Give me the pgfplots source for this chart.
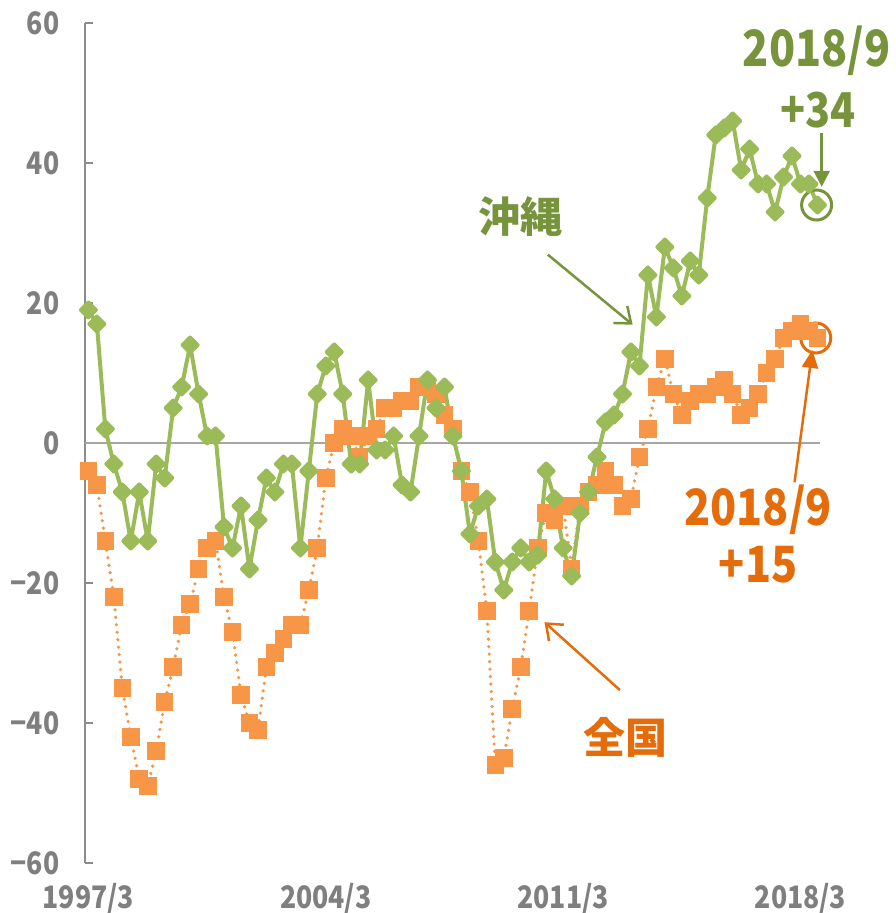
\documentclass[border=0pt]{standalone}
\usepackage{pgfplots}
\pgfplotsset{compat=1.18}
\usepackage{fontspec}
\setmainfont{Noto Sans CJK JP}
\usetikzlibrary{arrows.meta}
\definecolor{gline}{HTML}{9BBB59}
\definecolor{gdark}{HTML}{77933C}
\definecolor{oline}{HTML}{F79646}
\definecolor{odark}{HTML}{E46C0A}
\definecolor{axisgray}{HTML}{8C8C8C}
\definecolor{zerogray}{HTML}{A6A6A6}
\definecolor{labelgray}{HTML}{7F7F7F}
\newcommand{\nar}[1]{\scalebox{0.86}[1]{#1}}
\begin{document}
\begin{tikzpicture}
\useasboundingbox (0,0) rectangle (895pt,913pt);
\begin{axis}[
  scale only axis, width=735pt, height=840pt,
  at={(85pt,50pt)}, anchor=south west,
  xmin=-0.4, xmax=86.3, ymin=-60, ymax=60,
  axis x line*=bottom, axis y line*=left,
  x axis line style={draw=none},
  y axis line style={draw=axisgray, line width=1.5pt},
  xtick={0,28,56,84},
  xticklabels={\nar{1997/3},\nar{2004/3},\nar{2011/3},\nar{2018/3}},
  ytick={-60,-40,-20,0,20,40,60},
  yticklabels={\nar{−60},\nar{−40},\nar{−20},\nar{0},\nar{20},\nar{40},\nar{60}},
  xtick style={draw=none},
  ytick style={draw=axisgray, line width=1.5pt},
  tick align=inside, major tick length=8pt,
  ticklabel style={font=\fontsize{31}{33}\selectfont\bfseries, text=labelgray},
  yticklabel style={xshift=-22pt},
  xticklabel style={yshift=-17pt},
  clip=false,
]
\addplot[zerogray, line width=1.5pt] coordinates {(-0.4,0) (86.3,0)};
\addplot[oline, line width=3.6pt, dash pattern=on 0pt off 7.5pt, line cap=round,
  mark=square*, mark size=7pt, mark options={solid}] coordinates {
(0,-4)(1,-6)(2,-14)(3,-22)(4,-35)(5,-42)(6,-48)(7,-49)(8,-44)(9,-37)
(10,-32)(11,-26)(12,-23)(13,-18)(14,-15)(15,-14)(16,-22)(17,-27)(18,-36)(19,-40)
(20,-41)(21,-32)(22,-30)(23,-28)(24,-26)(25,-26)(26,-21)(27,-15)(28,-5)(29,0)
(30,2)(31,1)(32,-2)(33,1)(34,2)(35,5)(36,5)(37,6)(38,6)(39,8)
(40,8)(41,7)(42,4)(43,2)(44,-4)(45,-7)(46,-14)(47,-24)(48,-46)(49,-45)
(50,-38)(51,-32)(52,-24)(53,-15)(54,-10)(55,-11)(56,-9)(57,-18)(58,-9)(59,-7)
(60,-6)(61,-4)(62,-6)(63,-9)(64,-8)(65,-2)(66,2)(67,8)(68,12)(69,7)
(70,4)(71,6)(72,7)(73,7)(74,8)(75,9)(76,7)(77,4)(78,5)(79,7)
(80,10)(81,12)(82,15)(83,16)(84,17)(85,16)(86,15)};
\addplot[gline, line width=4pt, line join=round,
  mark=diamond*, mark size=7.5pt, mark options={solid, xscale=1.33}] coordinates {
(0,19)(1,17)(2,2)(3,-3)(4,-7)(5,-14)(6,-7)(7,-14)(8,-3)(9,-5)
(10,5)(11,8)(12,14)(13,7)(14,1)(15,1)(16,-12)(17,-15)(18,-9)(19,-18)
(20,-11)(21,-5)(22,-7)(23,-3)(24,-3)(25,-15)(26,-4)(27,7)(28,11)(29,13)
(30,7)(31,-3)(32,-3)(33,9)(34,-1)(35,-1)(36,1)(37,-6)(38,-7)(39,1)
(40,9)(41,5)(42,8)(43,1)(44,-4)(45,-13)(46,-9)(47,-8)(48,-17)(49,-21)
(50,-17)(51,-15)(52,-17)(53,-16)(54,-4)(55,-8)(56,-15)(57,-19)(58,-10)(59,-7)
(60,-2)(61,3)(62,4)(63,7)(64,13)(65,11)(66,24)(67,18)(68,28)(69,25)
(70,21)(71,26)(72,24)(73,35)(74,44)(75,45)(76,46)(77,39)(78,42)(79,37)
(80,37)(81,33)(82,38)(83,41)(84,37)(85,37)(86,34)};
% annotations
\node[text=gdark, font=\fontsize{50}{54}\selectfont\bfseries] at (axis cs:85.9,56.1) {\nar{2018/9}};
\node[text=gdark, font=\fontsize{48}{50}\selectfont\bfseries] at (axis cs:86.1,47.6) {\nar{+34}};
\draw[gdark, line width=2.5pt, -{Triangle[length=16pt,width=16pt]}] (axis cs:86.5,44.3) -- (axis cs:86.5,36.6);
\draw[gdark, line width=3pt] (axis cs:85.9,34) circle[radius=15pt];
\node[text=gdark, font=\fontsize{42}{46}\selectfont\bfseries] at (axis cs:51.0,32.4) {沖縄};
\draw[gdark, line width=2.5pt, -{Straight Barb[length=14pt,width=22pt]}] (axis cs:54.2,26.9) -- (axis cs:64.2,16.9);
\draw[odark, line width=3pt] (axis cs:85.8,15) circle[radius=15pt];
\draw[odark, line width=2.5pt, -{Triangle[length=18pt,width=16pt]}] (axis cs:83.3,-5.6) -- (axis cs:85.4,13.3);
\node[text=odark, font=\fontsize{50}{54}\selectfont\bfseries] at (axis cs:79.0,-9.6) {\nar{2018/9}};
\node[text=odark, font=\fontsize{50}{54}\selectfont\bfseries] at (axis cs:79.0,-17.4) {\nar{+15}};
\node[text=odark, font=\fontsize{42}{46}\selectfont\bfseries] at (axis cs:63.3,-42.1) {全国};
\draw[odark, line width=2.5pt, -{Straight Barb[length=14pt,width=22pt]}] (axis cs:62.7,-35.3) -- (axis cs:53.8,-25.6);
\end{axis}
\end{tikzpicture}
\end{document}
